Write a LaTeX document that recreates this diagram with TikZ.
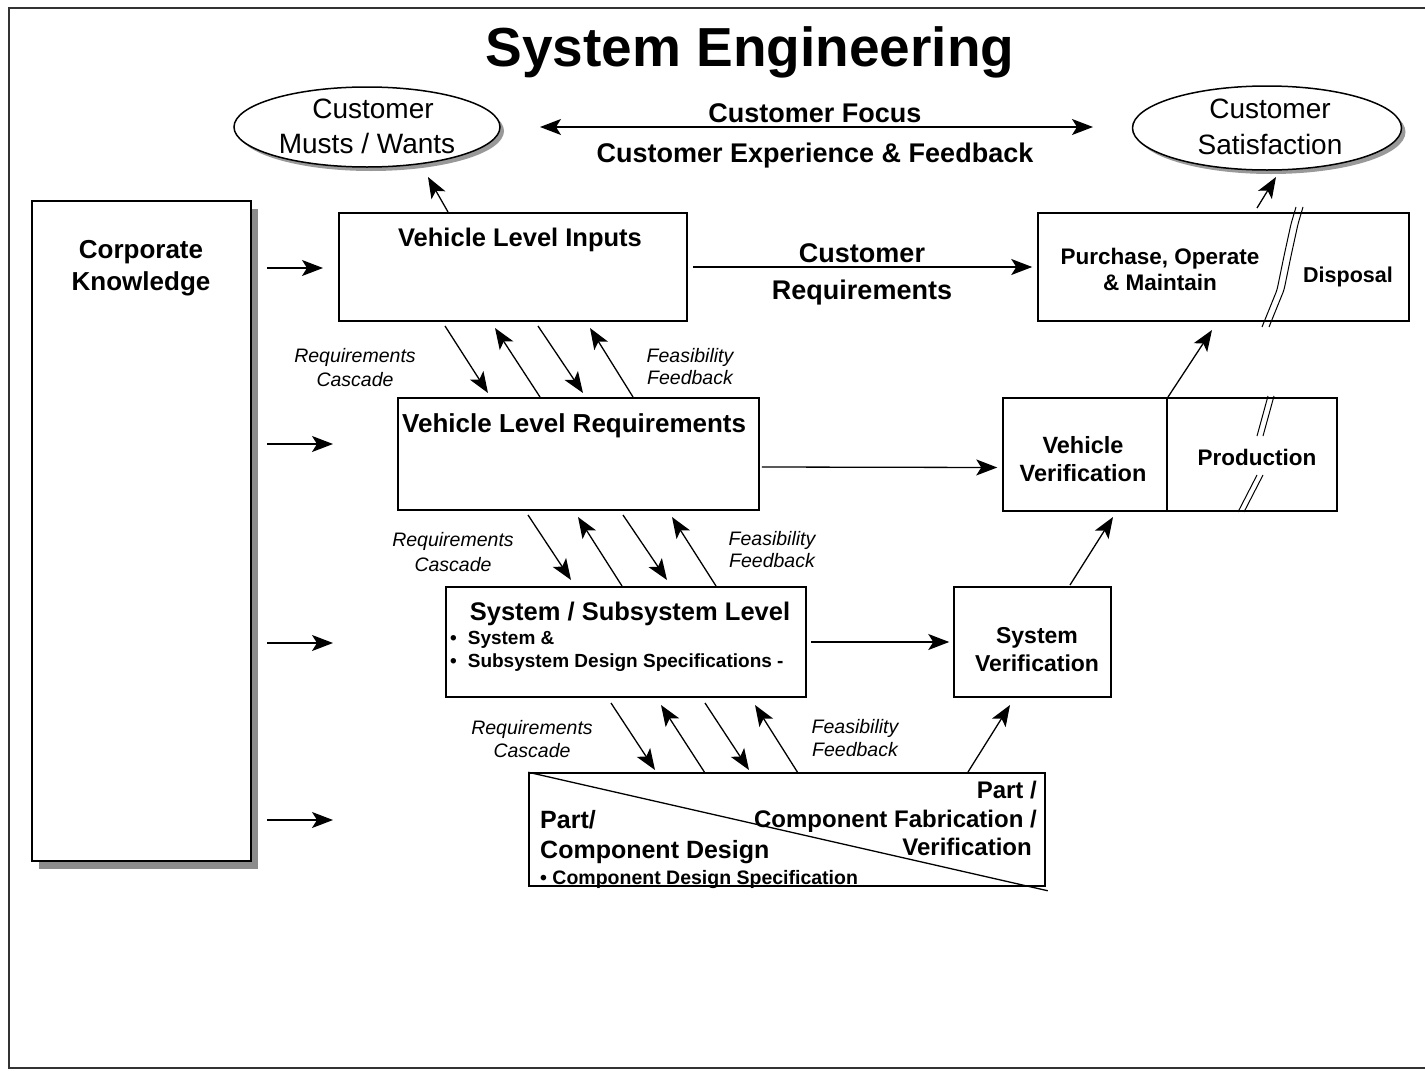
\documentclass[tikz,border=0pt]{standalone}
\usepackage{fontspec}
\setmainfont{Liberation Sans}
\usetikzlibrary{arrows.meta,shapes.geometric,shadows,calc}

\tikzset{
  box/.style={draw, line width=1.5pt, fill=white, rectangle, inner sep=0pt},
  oval/.style={draw, ellipse, line width=1.5pt, fill=white, inner sep=0pt,
    drop shadow={shadow xshift=4pt, shadow yshift=-4pt, fill=black!40, opacity=1}},
  tip/.tip={Stealth[length=21pt,width=16pt,inset=5pt]},
  arr/.style={line width=1.3pt, -tip},
  darr/.style={line width=1.3pt, tip-tip},
  bt/.style={font=\bfseries\fontsize{#1}{#1}\selectfont, inner sep=0pt},
  rt/.style={font=\fontsize{#1}{#1}\selectfont, inner sep=0pt},
  it/.style={font=\itshape\fontsize{#1}{#1}\selectfont, inner sep=0pt},
  brk/.style={line width=1pt, rounded corners=3pt},
}

\begin{document}
\begin{tikzpicture}[x=1pt,y=-1pt]
\useasboundingbox (0,0) rectangle (1425,1071);
\clip (0,0) rectangle (1425,1071);

% page frame (runs off on the right)
\draw[line width=2pt, black!80] (9,8) rectangle (1445,1068);

% title
\node[bt=55, anchor=base] (title) at (750,66) {System Engineering};

% customer ovals
\node[oval, minimum width=266pt, minimum height=80pt] (musts) at (367,127) {};
\node[rt=28, anchor=base] (mustsA) at (373,118) {Customer};
\node[rt=28, anchor=base] (mustsB) at (367,153) {Musts / Wants};

\node[oval, minimum width=269pt, minimum height=84pt] (sat) at (1267,128) {};
\node[rt=28, anchor=base] (satA) at (1270,118) {Customer};
\node[rt=28, anchor=base] (satB) at (1270,154) {Satisfaction};

% customer focus band
\coordinate (focusL) at (540,127);
\coordinate (focusR) at (1093,127);
\draw[darr] (focusL) -- (focusR);
\node[bt=27, anchor=base] (focusA) at (815,122) {Customer Focus};
\node[bt=27, anchor=base] (focusB) at (815,162) {Customer Experience \& Feedback};

% corporate knowledge column
\node[box, minimum width=219pt, minimum height=660pt,
  drop shadow={shadow xshift=7pt, shadow yshift=-8pt, fill=black!45, opacity=1}] (corp) at (141.5,531) {};
\node[bt=26, anchor=base] (corpA) at (141,258) {Corporate};
\node[bt=26, anchor=base] (corpB) at (141,290) {Knowledge};

% vehicle level inputs
\node[box, minimum width=348pt, minimum height=108pt] (vli) at (513,267) {};
\node[bt=25.5, anchor=base] (vliT) at (520,246) {Vehicle Level Inputs};

% purchase / disposal
\node[box, minimum width=371pt, minimum height=108pt] (purch) at (1223.5,267) {};
\node[bt=22.5, anchor=base] (purchA) at (1160,264) {Purchase, Operate};
\node[bt=22.5, anchor=base] (purchB) at (1160,290) {\& Maintain};
\node[bt=21.5, anchor=base] (disp) at (1348,282) {Disposal};
\draw[brk] (1296,207) -- (1291,224) -- (1284,256) -- (1277,290) -- (1262,327);
\draw[brk] (1303,207) -- (1298,224) -- (1291,256) -- (1284,290) -- (1269,327);

% customer requirements
\node[bt=27, anchor=base] (reqA) at (862,262) {Customer};
\node[bt=27, anchor=base] (reqB) at (862,299) {Requirements};
\draw[arr] ([xshift=5pt]vli.east) -- ([xshift=-5pt]purch.west);

% vehicle level requirements
\node[box, minimum width=361pt, minimum height=112pt] (vlr) at (578.5,454) {};
\node[bt=26, anchor=base west] (vlrT) at (402,432) {Vehicle Level Requirements};

% vehicle verification / production
\node[box, minimum width=334pt, minimum height=113pt] (vv) at (1170,454.5) {};
\draw[line width=1.5pt] ([xshift=-3pt]vv.north) -- ([xshift=-3pt]vv.south);
\node[bt=23.5, anchor=base] (vvA) at (1083,453) {Vehicle};
\node[bt=23.5, anchor=base] (vvB) at (1083,481) {Verification};
\node[bt=22.5, anchor=base] (prod) at (1257,465) {Production};
\draw[line width=1pt] (1268,396) -- (1257,436);
\draw[line width=1pt] (1274,396) -- (1263,436);
\draw[line width=1pt] (1257,475) -- (1238,512);
\draw[line width=1pt] (1263,475) -- (1244,512);
\draw[arr] ([shift={(2pt,-13pt)}]vlr.east) -- ([shift={(-5pt,-13pt)}]vv.west);

% system / subsystem level
\node[box, minimum width=360pt, minimum height=110pt] (sys) at (626,642) {};
\node[bt=25.5, anchor=base] (sysT) at (630,620) {System / Subsystem Level};
\node[bt=19, anchor=base west] (sysA) at (450,644) {\textbullet\hspace{11pt}System \&};
\node[bt=19, anchor=base west] (sysB) at (450,667) {\textbullet\hspace{11pt}Subsystem Design Specifications -};

% system verification
\node[box, minimum width=157pt, minimum height=110pt] (sysv) at (1032.5,642) {};
\node[bt=23, anchor=base] (sysvA) at (1037,643) {System};
\node[bt=23, anchor=base] (sysvB) at (1037,671) {Verification};
\draw[arr] ([xshift=4pt]sys.east) -- ([xshift=-4pt]sysv.west);

% part / component level
\node[box, minimum width=516pt, minimum height=113pt] (part) at (787,829.5) {};
\draw[line width=1.3pt] (part.north west) -- ([shift={(2pt,-4pt)}]part.south east);
\node[bt=25, anchor=base west] (partA) at (540,828) {Part/};
\node[bt=25, anchor=base west] (partB) at (540,858) {Component Design};
\node[bt=19.5, anchor=base west] (partC) at (540,884) {\textbullet\ Component Design Specification};
\node[bt=24, anchor=base east] (fabA) at (1037,798) {Part /};
\node[bt=24, anchor=base east] (fabB) at (1037,827) {Component Fabrication /};
\node[bt=24, anchor=base east] (fabC) at (1032,855) {Verification};

% corporate knowledge feeds
\coordinate (k1s) at (267,268); \coordinate (k1e) at (323,268);
\coordinate (k2s) at (267,444); \coordinate (k2e) at (333,444);
\coordinate (k3s) at (267,643); \coordinate (k3e) at (333,643);
\coordinate (k4s) at (267,820); \coordinate (k4e) at (333,820);
\draw[arr] (k1s) -- (k1e);
\draw[arr] (k2s) -- (k2e);
\draw[arr] (k3s) -- (k3e);
\draw[arr] (k4s) -- (k4e);

% cascade and feedback: inputs <-> vehicle requirements
\node[it=19.5, anchor=base] (rc1a) at (355,362) {Requirements};
\node[it=19.5, anchor=base] (rc1b) at (355,386) {Cascade};
\node[it=19.5, anchor=base] (fb1a) at (690,362) {Feasibility};
\node[it=19.5, anchor=base] (fb1b) at (690,384) {Feedback};
\coordinate (a1s) at (445,326); \coordinate (a1e) at (488,393);
\coordinate (b1s) at (540,397); \coordinate (b1e) at (495,328);
\coordinate (a2s) at (538,326); \coordinate (a2e) at (583,393);
\coordinate (b2s) at (633,397); \coordinate (b2e) at (590,328);
\draw[arr] (a1s) -- (a1e);
\draw[arr] (b1s) -- (b1e);
\draw[arr] (a2s) -- (a2e);
\draw[arr] (b2s) -- (b2e);

% cascade and feedback: vehicle requirements <-> system level
\node[it=19.5, anchor=base] (rc2a) at (453,546) {Requirements};
\node[it=19.5, anchor=base] (rc2b) at (453,571) {Cascade};
\node[it=19.5, anchor=base] (fb2a) at (772,545) {Feasibility};
\node[it=19.5, anchor=base] (fb2b) at (772,567) {Feedback};
\coordinate (a3s) at (528,515); \coordinate (a3e) at (571,580);
\coordinate (b3s) at (622,586); \coordinate (b3e) at (578,517);
\coordinate (a4s) at (623,515); \coordinate (a4e) at (667,580);
\coordinate (b4s) at (716,586); \coordinate (b4e) at (672,517);
\draw[arr] (a3s) -- (a3e);
\draw[arr] (b3s) -- (b3e);
\draw[arr] (a4s) -- (a4e);
\draw[arr] (b4s) -- (b4e);

% cascade and feedback: system level <-> part level
\node[it=19.5, anchor=base] (rc3a) at (532,734) {Requirements};
\node[it=19.5, anchor=base] (rc3b) at (532,757) {Cascade};
\node[it=19.5, anchor=base] (fb3a) at (855,733) {Feasibility};
\node[it=19.5, anchor=base] (fb3b) at (855,756) {Feedback};
\coordinate (a5s) at (611,703); \coordinate (a5e) at (655,770);
\coordinate (b5s) at (705,773); \coordinate (b5e) at (661,705);
\coordinate (a6s) at (705,703); \coordinate (a6e) at (749,770);
\coordinate (b6s) at (798,773); \coordinate (b6e) at (755,705);
\draw[arr] (a5s) -- (a5e);
\draw[arr] (b5s) -- (b5e);
\draw[arr] (a6s) -- (a6e);
\draw[arr] (b6s) -- (b6e);

% verification chain up the right side
\coordinate (v1s) at (968,772); \coordinate (v1e) at (1010,705);
\coordinate (v2s) at (1070,585); \coordinate (v2e) at (1113,517);
\coordinate (v3s) at (1168,397); \coordinate (v3e) at (1212,330);
\draw[arr] (v1s) -- (v1e);
\draw[arr] (v2s) -- (v2e);
\draw[arr] (v3s) -- (v3e);

% outcomes to the customer ovals
\coordinate (m1s) at (448,212); \coordinate (m1e) at (428,177);
\coordinate (s1s) at (1257,208); \coordinate (s1e) at (1276,177);
\draw[arr] (m1s) -- (m1e);
\draw[arr] (s1s) -- (s1e);
\end{tikzpicture}
\end{document}
